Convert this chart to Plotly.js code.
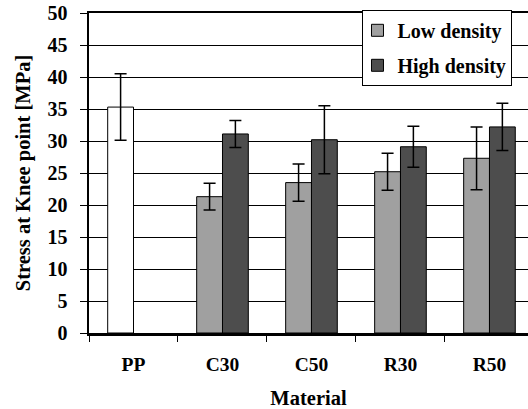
<!DOCTYPE html>
<html>
<head>
<meta charset="utf-8">
<script src="https://cdn.plot.ly/plotly-3.0.1.min.js"></script>
<style>
html,body{margin:0;padding:0;background:#fff;overflow:hidden;}
#chart{width:528px;height:409px;}
</style>
</head>
<body>
<div id="chart"></div>
<script>
const categories = ['PP', 'C30', 'C50', 'R30', 'R50'];
const ppCategory = ['PP'];
const ppValue = [35.3];
const ppError = [5.2];
const densityCategories = ['C30', 'C50', 'R30', 'R50'];
const lowDensity = [21.3, 23.5, 25.2, 27.3];
const lowDensityError = [2.1, 2.9, 2.9, 4.9];
const highDensity = [31.1, 30.2, 29.1, 32.2];
const highDensityError = [2.1, 5.3, 3.2, 3.7];
const yTicks = [0, 5, 10, 15, 20, 25, 30, 35, 40, 45, 50];

const serif = 'Liberation Serif, Times New Roman, serif';
const errStyle = (arr) => ({type: 'data', array: arr, visible: true, color: '#000', thickness: 1.5, width: 6});

const traces = [
  {type: 'bar', x: ppCategory, y: ppValue, name: 'PP', showlegend: false,
   offsetgroup: 'low', marker: {color: '#ffffff', line: {color: '#000', width: 1}},
   error_y: errStyle(ppError)},
  {type: 'bar', x: densityCategories, y: lowDensity, name: 'Low density', legendgroup: 'a',
   offsetgroup: 'low', marker: {color: '#a0a0a0', line: {color: '#000', width: 1}},
   error_y: errStyle(lowDensityError)},
  {type: 'bar', x: densityCategories, y: highDensity, name: 'High density', legendgroup: 'b',
   offsetgroup: 'high', marker: {color: '#4d4d4d', line: {color: '#000', width: 1}},
   error_y: errStyle(highDensityError)}
];

const layout = {
  width: 528, height: 409,
  margin: {l: 89, r: 0, t: 13, b: 76, autoexpand: false},
  paper_bgcolor: '#fff', plot_bgcolor: '#fff',
  barmode: 'group', bargap: 0.42, bargroupgap: 0,
  font: {family: serif, size: 20, color: '#000', weight: 'bold'},
  xaxis: {
    type: 'category', categoryorder: 'array', categoryarray: categories,
    range: [-0.5, 4.433], tickson: 'boundaries', ticks: 'outside', ticklen: 6, tickwidth: 1, tickcolor: '#000',
    showline: true, linecolor: '#000', linewidth: 2.5, mirror: true,
    showgrid: false, ticklabelstandoff: 12,
    tickfont: {family: serif, size: 19.5, weight: 'bold'},
    title: {text: 'Material', font: {family: serif, size: 20.5, weight: 'bold'}, standoff: 18}
  },
  yaxis: {
    range: [0, 50], tickvals: yTicks, ticks: 'outside', ticklen: 7, tickwidth: 1, tickcolor: '#000',
    showline: true, linecolor: '#000', linewidth: 2.5, zeroline: false,
    showgrid: true, gridcolor: '#000', gridwidth: 1, ticklabelstandoff: 8,
    tickfont: {family: serif, size: 20, weight: 'bold'},
    title: {text: 'Stress at Knee point [MPa]', font: {family: serif, size: 20.5, weight: 'bold'}, standoff: 12}
  },
  legend: {
    x: 0.623, y: 1.01, xanchor: 'left', yanchor: 'top',
    bgcolor: '#fff', bordercolor: '#000', borderwidth: 1,
    font: {family: serif, size: 20, weight: 'bold'},
    indentation: -6,
    traceorder: 'grouped', tracegroupgap: 6
  }
};

Plotly.newPlot('chart', traces, layout, {displayModeBar: false, staticPlot: true});
</script>
</body>
</html>
